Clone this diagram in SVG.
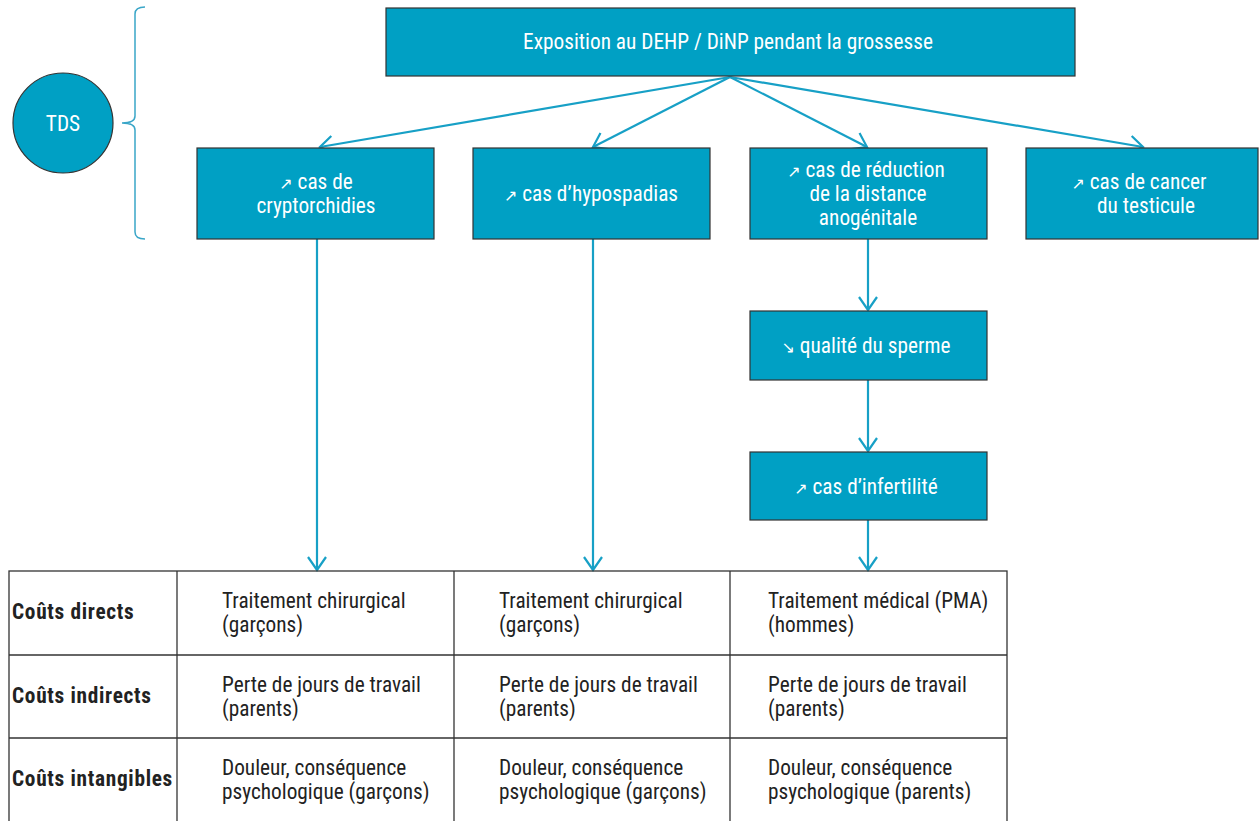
<svg xmlns="http://www.w3.org/2000/svg" width="1259" height="821" viewBox="0 0 1259 821">
<style>
.box{fill:#00A0C4;stroke:#333;stroke-width:1.2}
.bt{fill:#fff;font-family:"Liberation Sans Narrow","Roboto Condensed","Liberation Sans",sans-serif;font-size:21.3px;text-anchor:middle}
.ar{font-family:"DejaVu Sans",sans-serif;font-size:16px}
.con{stroke:#17A0C6;stroke-width:2.2;fill:none}
.cell{fill:none;stroke:#333;stroke-width:1.3}
.tt{fill:#222;font-family:"Liberation Sans Narrow","Roboto Condensed","Liberation Sans",sans-serif;font-size:21.3px}
.th{font-weight:bold;letter-spacing:0.7px}
</style>
<defs>
<marker id="v" markerWidth="20" markerHeight="20" refX="14" refY="10" orient="auto" markerUnits="userSpaceOnUse">
<path d="M1,1 L14,10 L1,19" fill="none" stroke="#17A0C6" stroke-width="2.2"/>
</marker>
</defs>
<g id="tds">
<circle cx="63" cy="123" r="50" fill="#00A0C4" stroke="#333" stroke-width="1.2"/>
<text class="bt" x="63" y="131">TDS</text>
</g>
<g id="brace">
<path d="M145,7 Q135,7 135,14 L135,116 Q135,123 122,123 Q135,123 135,130 L135,232 Q135,239 145,239" fill="none" stroke="#3AA6C8" stroke-width="1.5"/>
</g>
<g id="connectors">
<line class="con" x1="730" y1="77" x2="320" y2="147" marker-end="url(#v)"/>
<line class="con" x1="730" y1="77" x2="593" y2="147" marker-end="url(#v)"/>
<line class="con" x1="730" y1="77" x2="867" y2="147" marker-end="url(#v)"/>
<line class="con" x1="730" y1="77" x2="1143" y2="147" marker-end="url(#v)"/>
<line class="con" x1="317" y1="239" x2="317" y2="570" marker-end="url(#v)"/>
<line class="con" x1="593" y1="239" x2="593" y2="570" marker-end="url(#v)"/>
<line class="con" x1="868" y1="239" x2="868" y2="310" marker-end="url(#v)"/>
<line class="con" x1="868" y1="380" x2="868" y2="451" marker-end="url(#v)"/>
<line class="con" x1="868" y1="520" x2="868" y2="570" marker-end="url(#v)"/>
</g>
<g id="n-top">
<rect class="box" x="386" y="8" width="689" height="68"/>
<text class="bt" x="728" y="49">Exposition au DEHP / DiNP pendant la grossesse</text>
</g>
<g id="n-crypto">
<rect class="box" x="197" y="148" width="237" height="91"/>
<text class="bt" x="316" y="189"><tspan class="ar">↗</tspan> cas de</text>
<text class="bt" x="316" y="213">cryptorchidies</text>
</g>
<g id="n-hypo">
<rect class="box" x="473" y="148" width="237" height="91"/>
<text class="bt" x="591" y="201"><tspan class="ar">↗</tspan> cas d’hypospadias</text>
</g>
<g id="n-ago">
<rect class="box" x="750" y="148" width="237" height="91"/>
<text class="bt" x="866" y="177"><tspan class="ar">↗</tspan> cas de réduction</text>
<text class="bt" x="868" y="201">de la distance</text>
<text class="bt" x="868" y="225">anogénitale</text>
</g>
<g id="n-cancer">
<rect class="box" x="1026" y="148" width="232" height="91"/>
<text class="bt" x="1139" y="189"><tspan class="ar">↗</tspan> cas de cancer</text>
<text class="bt" x="1146" y="213">du testicule</text>
</g>
<g id="n-sperme">
<rect class="box" x="750" y="311" width="237" height="69"/>
<text class="bt" x="866" y="353"><tspan class="ar">↘</tspan> qualité du sperme</text>
</g>
<g id="n-infert">
<rect class="box" x="750" y="452" width="237" height="68"/>
<text class="bt" x="866" y="494"><tspan class="ar">↗</tspan> cas  d’infertilité</text>
</g>
<g id="table">
<rect class="cell" x="9" y="571" width="998" height="252"/>
<line class="cell" x1="9" y1="655" x2="1007" y2="655"/>
<line class="cell" x1="9" y1="738" x2="1007" y2="738"/>
<line class="cell" x1="177" y1="571" x2="177" y2="821"/>
<line class="cell" x1="454" y1="571" x2="454" y2="821"/>
<line class="cell" x1="730" y1="571" x2="730" y2="821"/>
<text class="tt th" x="12" y="619">Coûts directs</text>
<text class="tt th" x="12" y="703">Coûts indirects</text>
<text class="tt th" x="12" y="786">Coûts intangibles</text>
<text class="tt" x="222" y="608">Traitement chirurgical</text>
<text class="tt" x="222" y="632">(garçons)</text>
<text class="tt" x="222" y="692">Perte de jours de travail</text>
<text class="tt" x="222" y="716">(parents)</text>
<text class="tt" x="222" y="775">Douleur, conséquence</text>
<text class="tt" x="222" y="799">psychologique (garçons)</text>
<text class="tt" x="499" y="608">Traitement chirurgical</text>
<text class="tt" x="499" y="632">(garçons)</text>
<text class="tt" x="499" y="692">Perte de jours de travail</text>
<text class="tt" x="499" y="716">(parents)</text>
<text class="tt" x="499" y="775">Douleur, conséquence</text>
<text class="tt" x="499" y="799">psychologique (garçons)</text>
<text class="tt" x="768" y="608">Traitement médical (PMA)</text>
<text class="tt" x="768" y="632">(hommes)</text>
<text class="tt" x="768" y="692">Perte de jours de travail</text>
<text class="tt" x="768" y="716">(parents)</text>
<text class="tt" x="768" y="775">Douleur, conséquence</text>
<text class="tt" x="768" y="799">psychologique (parents)</text>
</g>
</svg>
